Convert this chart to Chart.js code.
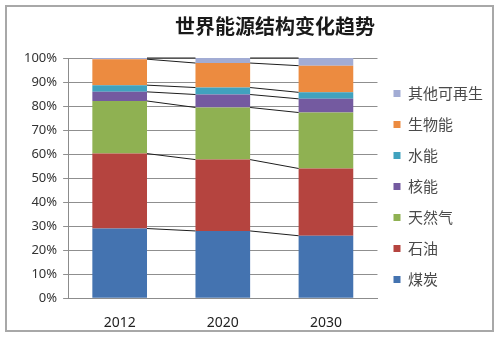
<!DOCTYPE html>
<html>
<head>
<meta charset="utf-8">
<script src="https://cdn.jsdelivr.net/npm/chart.js@4.4.0/dist/chart.umd.min.js"></script>
<style>
  html, body { margin: 0; padding: 0; background: #fff; }
  #wrap { position: relative; width: 500px; height: 337px; }
  #marco { position: absolute; left: 5px; top: 5px; width: 485px; height: 323px; border: 2px solid #a8a8a8; pointer-events: none; }
  #titulo { position: absolute; left: 0; top: 11px; width: 550px; text-align: center;
            font: bold 20px "Noto Sans CJK SC", sans-serif; color: #1a1a1a; }
</style>
</head>
<body>
<div id="wrap">
  <canvas id="grafico" width="500" height="337"></canvas>
  <div id="marco"></div>
  <div id="titulo">世界能源结构变化趋势</div>
</div>
<script>
// Datos (porcentajes)
const anios = ['2012', '2020', '2030'];
const carbon = [29, 28, 26];
const petroleo = [31.2, 29.7, 28];
const gasNatural = [21.9, 21.7, 23.3];
const nuclear = [3.8, 5.4, 5.7];
const hidro = [2.8, 2.9, 2.7];
const biomasa = [10.8, 10.2, 11.1];
const otrasRenovables = [0.5, 2.1, 3.2];
const ticksY = [0, 10, 20, 30, 40, 50, 60, 70, 80, 90, 100];

const series = [
  { label: '煤炭', data: carbon, color: '#4473B0' },
  { label: '石油', data: petroleo, color: '#B5443F' },
  { label: '天然气', data: gasNatural, color: '#8FB152' },
  { label: '核能', data: nuclear, color: '#745AA0' },
  { label: '水能', data: hidro, color: '#40A2BE' },
  { label: '生物能', data: biomasa, color: '#EC8B40' },
  { label: '其他可再生', data: otrasRenovables, color: '#A2ACD4' },
];

// Líneas de serie entre barras (como en Excel)
const lineasSerie = {
  id: 'lineasSerie',
  afterDatasetsDraw(chart) {
    const ctx = chart.ctx;
    ctx.save();
    ctx.strokeStyle = '#1e1e1e';
    ctx.lineWidth = 1;
    chart.data.datasets.forEach((ds, d) => {
      const meta = chart.getDatasetMeta(d);
      for (let i = 0; i < meta.data.length - 1; i++) {
        const a = meta.data[i], b = meta.data[i + 1];
        ctx.beginPath();
        ctx.moveTo(a.x + a.width / 2, a.y);
        ctx.lineTo(b.x - b.width / 2, b.y);
        ctx.stroke();
      }
    });
    ctx.restore();
  }
};

const ctx = document.getElementById('grafico').getContext('2d');
new Chart(ctx, {
  type: 'bar',
  data: {
    labels: anios,
    datasets: series.map(s => ({
      label: s.label,
      data: s.data,
      backgroundColor: s.color,
      borderWidth: 0,
      categoryPercentage: 1,
      barPercentage: 0.53,
    })),
  },
  options: {
    responsive: false,
    animation: false,
    layout: { padding: { top: 58, left: 18, right: 7, bottom: -10 } },
    plugins: {
      tooltip: { enabled: false },
      title: { display: false },
      legend: {
        position: 'right',
        align: 'start',
        reverse: true,
        // título vacío solo para bajar la leyenda
        title: { display: true, text: ' ', font: { size: 10 }, padding: 0 },
        labels: {
          boxWidth: 7,
          boxHeight: 7,
          padding: 16,
          color: '#4a4a4a',
          font: { family: '"Noto Sans CJK SC", sans-serif', size: 15 },
        },
      },
    },
    scales: {
      x: {
        stacked: true,
        grid: { display: false, drawTicks: false },
        border: { color: '#8c8c8c' },
        ticks: { color: '#222', padding: 16, font: { family: '"Noto Sans", sans-serif', size: 14 } },
      },
      y: {
        stacked: true,
        min: 0,
        max: 100,
        afterBuildTicks: axis => { axis.ticks = ticksY.map(v => ({ value: v })); },
        grid: { color: '#8f8f8f', tickLength: 5 },
        border: { color: '#8c8c8c' },
        ticks: {
          color: '#333',
          padding: 6,
          font: { family: '"Noto Sans", sans-serif', size: 13 },
          callback: v => v + '%',
        },
      },
    },
  },
  plugins: [lineasSerie],
});
</script>
</body>
</html>
